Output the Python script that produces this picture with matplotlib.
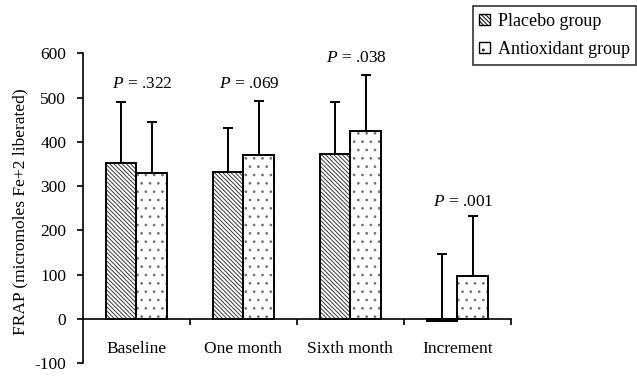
import numpy as np
import matplotlib
matplotlib.use("Agg")
import matplotlib.pyplot as plt
from matplotlib.ticker import FixedLocator

plt.rcParams['font.family'] = ['Liberation Serif', 'DejaVu Serif']
plt.rcParams['mathtext.fontset'] = 'custom'
plt.rcParams['mathtext.rm'] = 'Liberation Serif'
plt.rcParams['mathtext.it'] = 'Liberation Serif:italic'
plt.rcParams['axes.unicode_minus'] = False
plt.rcParams['hatch.linewidth'] = 0.7

# data
categories = ['Baseline', 'One month', 'Sixth month', 'Increment']
placebo_mean = [351, 332, 372, -6]
placebo_sd = [139, 99, 118, 153]
antiox_mean = [330, 371, 424, 97]
antiox_sd = [115, 122, 128, 135]
p_labels = ['.322', '.069', '.038', '.001']
p_label_y = [531, 531, 589, 263]

fig = plt.figure(figsize=(6.37, 3.79), dpi=100)
ax = fig.add_axes([0.13, 0.0422, 0.672, 0.8172])

x = np.arange(len(categories)) + 0.5
w = 0.287

# hatch layer (hatch takes the edge colour), then black outline on top
ax.bar(x - w / 2, placebo_mean, w, color='white', edgecolor='#3a3a3a',
       linewidth=0, hatch='\\' * 8, label='Placebo group', zorder=2)
ax.bar(x + w / 2, antiox_mean, w, color='white', edgecolor='#707070',
       linewidth=0, hatch='..', label='Antioxidant group', zorder=2)
ax.bar(x - w / 2, placebo_mean, w, color='none', edgecolor='black',
       linewidth=1.4, zorder=2.5)
ax.bar(x + w / 2, antiox_mean, w, color='none', edgecolor='black',
       linewidth=1.4, zorder=2.5)

zeros = np.zeros(len(categories))
ax.errorbar(x - w / 2, placebo_mean, yerr=[zeros, placebo_sd], fmt='none',
            ecolor='black', elinewidth=1.4, capsize=3.6, capthick=1.4, zorder=3)
ax.errorbar(x + w / 2, antiox_mean, yerr=[zeros, antiox_sd], fmt='none',
            ecolor='black', elinewidth=1.4, capsize=3.6, capthick=1.4, zorder=3)

for xi, lab, yi in zip(x, p_labels, p_label_y):
    ax.text(xi + 0.06, yi, r'$P$ = ' + lab, ha='center', va='center', fontsize=12.5)

ax.set_xlim(0, 4)
ax.set_ylim(-100, 600)
ax.set_yticks(np.arange(-100, 601, 100))
ax.set_xticks(x)
ax.set_xticklabels(categories)
ax.xaxis.set_minor_locator(FixedLocator([1, 2, 3, 4]))

for s in ['top', 'right']:
    ax.spines[s].set_visible(False)
ax.spines['bottom'].set_position(('data', 0))
ax.spines['left'].set_linewidth(1.2)
ax.spines['bottom'].set_linewidth(1.2)

ax.tick_params(axis='y', direction='out', length=4, width=1.2, pad=8, labelsize=12.5)
ax.tick_params(axis='x', which='major', length=0, pad=16, labelsize=12.5)
ax.tick_params(axis='x', which='minor', direction='out', length=4, width=1.2)

ax.text(-0.146, 0.49, 'FRAP (micromoles Fe+2 liberated)', rotation=90,
        ha='center', va='center', fontsize=12.5, transform=ax.transAxes)

leg = fig.legend(loc='upper right', bbox_to_anchor=(0.999, 0.984),
                 fontsize=13, frameon=True, fancybox=False, edgecolor='black',
                 handlelength=0.6, handleheight=0.6, handletextpad=0.4,
                 labelspacing=0.6, borderpad=0.38, borderaxespad=0)
leg.get_frame().set_linewidth(1.2)
for p in leg.get_patches():
    p.set_edgecolor('black')
    p.set_linewidth(1.0)

fig.savefig('out.png', dpi=100)
